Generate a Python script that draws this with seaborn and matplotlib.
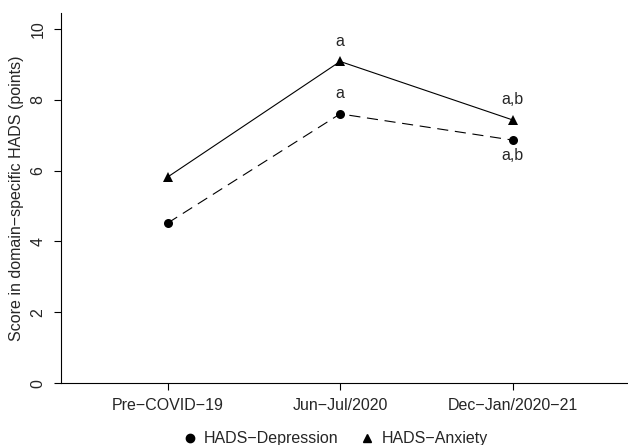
import matplotlib.pyplot as plt
import numpy as np
import pandas as pd
import seaborn as sns
from matplotlib.lines import Line2D

periods = ["Pre\u2212COVID\u221219", "Jun\u2212Jul/2020", "Dec\u2212Jan/2020\u221221"]
depression = [4.52, 7.60, 6.86]
anxiety = [5.82, 9.08, 7.43]
dep_labels = ["", "a", "a,b"]
anx_labels = ["", "a", "a,b"]

dep_name = "HADS\u2212Depression"
anx_name = "HADS\u2212Anxiety"

df = pd.DataFrame(
    {
        "pos": list(range(len(periods))) * 2,
        "score": depression + anxiety,
        "measure": [dep_name] * 3 + [anx_name] * 3,
    }
)

sns.set_style("ticks")
plt.rcParams["font.family"] = ["Liberation Sans", "DejaVu Sans"]

fig = plt.figure(figsize=(6.28, 4.45), dpi=100)
ax = fig.add_axes([0.097, 0.139, 0.903, 0.832])

sns.lineplot(
    data=df,
    x="pos",
    y="score",
    style="measure",
    markers={dep_name: "o", anx_name: "^"},
    dashes={dep_name: (10, 6), anx_name: ""},
    color="black",
    linewidth=0.8,
    markersize=6.5,
    markeredgewidth=0,
    legend=False,
    ax=ax,
)

fs = 11.5
for i, lab in enumerate(anx_labels):
    if lab:
        ax.annotate(lab, (i, anxiety[i]), xytext=(0, 9), textcoords="offset points",
                    ha="center", va="bottom", fontsize=fs)
for i, lab in enumerate(dep_labels):
    if not lab:
        continue
    if i == 2:
        ax.annotate(lab, (i, depression[i]), xytext=(0, -6), textcoords="offset points",
                    ha="center", va="top", fontsize=fs)
    else:
        ax.annotate(lab, (i, depression[i]), xytext=(0, 9), textcoords="offset points",
                    ha="center", va="bottom", fontsize=fs)

ax.set_xlim(-0.62, 2.67)
ax.set_ylim(0, 10.45)
ax.set_xticks(range(len(periods)))
ax.set_xticklabels(periods, fontsize=fs)
ax.set_yticks(np.arange(0, 11, 2))
ax.set_yticklabels([str(v) for v in range(0, 11, 2)], fontsize=fs, rotation=90, va="center")
ax.set_xlabel("")
ax.set_ylabel("Score in domain\u2212specific HADS (points)", fontsize=fs, labelpad=5)
ax.tick_params(length=5, width=0.8, color="black", pad=6)
for side in ["top", "right"]:
    ax.spines[side].set_visible(False)
for side in ["left", "bottom"]:
    ax.spines[side].set_linewidth(0.8)
    ax.spines[side].set_color("black")

handles = [
    Line2D([], [], marker="o", color="black", linestyle="none", markersize=6),
    Line2D([], [], marker="^", color="black", linestyle="none", markersize=6),
]
fig.legend(handles, [dep_name, anx_name], loc="lower center", bbox_to_anchor=(0.533, -0.035),
           ncol=2, frameon=False, fontsize=fs, handlelength=1.0, handletextpad=0.4,
           columnspacing=1.3)

fig.savefig("out.png", dpi=100)
